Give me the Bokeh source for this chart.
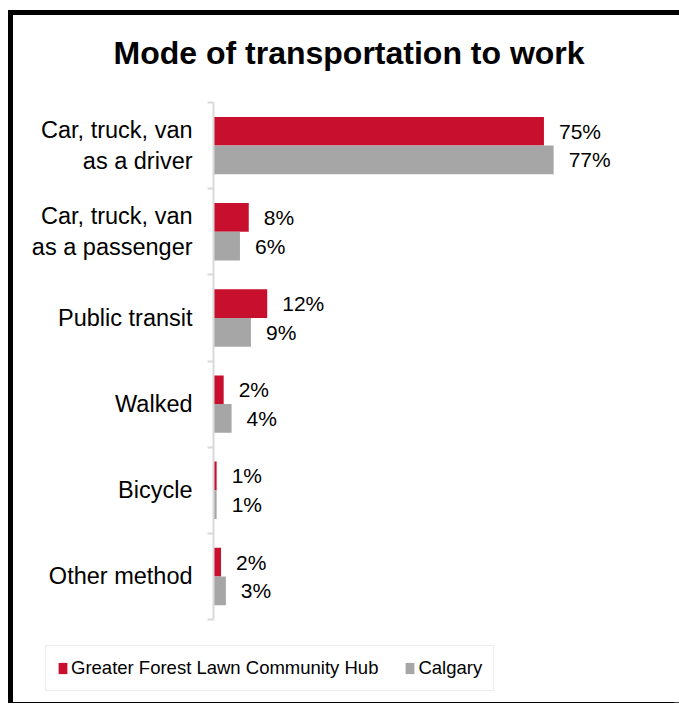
from bokeh.plotting import figure
from bokeh.models import Range1d, FixedTicker, Legend, LegendItem, ColumnDataSource, Label
from bokeh.core.properties import value
from bokeh.embed import file_html
from bokeh.resources import INLINE

# ---- data ----
title_text = "Mode of transportation to work"
categories = ["Car, truck, van\nas a driver", "Car, truck, van\nas a passenger",
              "Public transit", "Walked", "Bicycle", "Other method"]
series_names = ["Greater Forest Lawn Community Hub", "Calgary"]
hub_values = [75.1, 8.0, 12.2, 2.3, 0.7, 1.7]
calgary_values = [77.3, 6.0, 8.5, 4.1, 0.7, 2.8]
hub_labels = ["75%", "8%", "12%", "2%", "1%", "2%"]
calgary_labels = ["77%", "6%", "9%", "4%", "1%", "3%"]

RED = "#c8102e"
GREY = "#a6a6a6"
FONT = "Liberation Sans"

n = len(categories)
centers = [n - i - 0.5 for i in range(n)]
bounds = [float(b) for b in range(n + 1)]
bar_h = 1.0 / 3.0

src = ColumnDataSource(dict(
    y_hub=[c + bar_h / 2 for c in centers],
    y_cal=[c - bar_h / 2 for c in centers],
    hub=hub_values, cal=calgary_values,
    hub_lbl=hub_labels, cal_lbl=calgary_labels,
))

p = figure(width=666, height=687, output_backend="svg", toolbar_location=None,
           title=None,
           x_range=Range1d(-43.2, 100), y_range=Range1d(-0.905, 7.01),
           min_border_left=10, min_border_right=26,
           min_border_top=0, min_border_bottom=5)
# outer frame of the chart image: thick black left/top edge, thin grey bottom edge
p.styles = {"margin-top": "15px", "margin-left": "13px",
            "box-shadow": ("-5px -5px 0 0 #000000, 0 -5px 0 0 #000000, "
                           "-5px 1px 0 0 #000000, 0 1px 0 0 #444444")}

r_hub = p.hbar(y="y_hub", left=0, right="hub", height=bar_h, source=src,
               fill_color=RED, line_color=None)
r_cal = p.hbar(y="y_cal", left=0, right="cal", height=bar_h, source=src,
               fill_color=GREY, line_color=None)

p.text(x="hub", y="y_hub", text="hub_lbl", source=src, x_offset=15,
       text_align="left", text_baseline="middle", text_color="black",
       text_font=value(FONT), text_font_size="21px")
p.text(x="cal", y="y_cal", text="cal_lbl", source=src, x_offset=15,
       text_align="left", text_baseline="middle", text_color="black",
       text_font=value(FONT), text_font_size="21px")

# axes
p.xaxis.visible = False
p.xgrid.visible = False
p.ygrid.visible = False
p.outline_line_color = None

ya = p.yaxis[0]
ya.fixed_location = 0
ya.bounds = (0, n)
ya.ticker = FixedTicker(ticks=centers, minor_ticks=bounds)
ya.major_label_overrides = {c: lab for c, lab in zip(centers, categories)}
ya.major_tick_out = 0
ya.major_tick_in = 0
ya.minor_tick_out = 6
ya.minor_tick_in = 0
ya.minor_tick_line_color = "#d9d9d9"
ya.minor_tick_line_width = 2
ya.axis_line_color = "#d9d9d9"
ya.axis_line_width = 2
ya.major_label_standoff = 15
ya.major_label_text_font = FONT
ya.major_label_text_font_size = "23.5px"
ya.major_label_text_color = "black"

# title (as a label in screen space, above the bars)
title = Label(x=90, y=645, x_units="screen", y_units="screen", text=title_text,
              text_font=FONT, text_font_size="32px", text_font_style="bold",
              text_color="black", text_align="left", text_baseline="alphabetic")
p.add_layout(title)

# legend
legend = Legend(items=[LegendItem(label=series_names[0], renderers=[r_hub]),
                       LegendItem(label=series_names[1], renderers=[r_cal])],
                orientation="horizontal", location=(22, 6))
legend.glyph_width = 11
legend.glyph_height = 14
legend.label_standoff = 3
legend.padding = 11
legend.spacing = 26
legend.margin = 0
legend.border_line_color = "#d9d9d9"
legend.border_line_width = 1.5
legend.label_text_font = FONT
legend.label_text_font_size = "18.5px"
legend.label_text_color = "black"
legend.background_fill_color = "white"
p.add_layout(legend)

open("out.html", "w").write(file_html(p, INLINE))
